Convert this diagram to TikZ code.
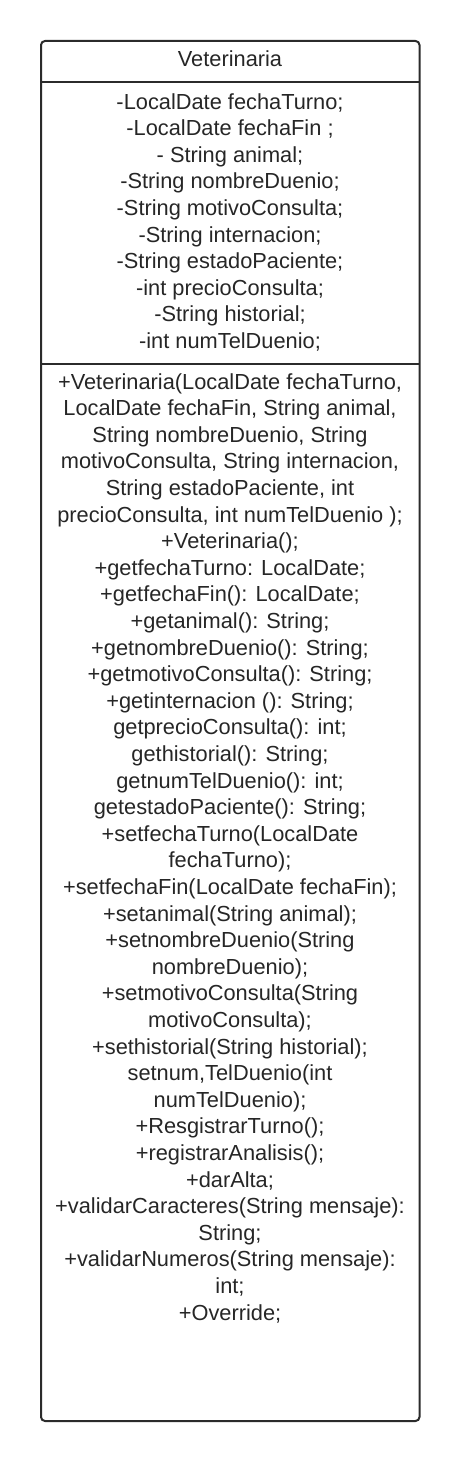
\documentclass[tikz,border=0pt]{standalone}
\usepackage{fontspec}
\setmainfont{Liberation Sans}
\definecolor{umlline}{HTML}{2B2B2B}
\definecolor{umltext}{HTML}{262626}
\begin{document}
\begin{tikzpicture}[x=1pt,y=-1pt,
  umltxt/.style={inner sep=0pt, anchor=base, align=center, text=umltext,
    font=\fontsize{21.8}{26.6}\selectfont},
  umlbox/.style={draw=umlline, line width=2pt, rounded corners=4pt},
  umlsep/.style={draw=umlline, line width=2pt}]
\useasboundingbox (0,0) rectangle (460,1461);
\draw[umlbox] (41,41) rectangle (419.5,1421);
\coordinate (h1l) at (41,82);
\coordinate (h1r) at (419.5,82);
\coordinate (h2l) at (41,364);
\coordinate (h2r) at (419.5,364);
\draw[umlsep] (h1l) -- (h1r);
\draw[umlsep] (h2l) -- (h2r);
\node[umltxt] (title) at (230,67) {Veterinaria};
% base anchor = baseline of the last line
\node[umltxt] (attrs) at (230,348.4) {-LocalDate fechaTurno;\\
-LocalDate fechaFin ;\\
- String animal;\\
-String nombreDuenio;\\
-String motivoConsulta;\\
-String internacion;\\
-String estadoPaciente;\\
-int precioConsulta;\\
-String historial;\\
-int numTelDuenio;};
\node[umltxt] (meths) at (230,1320) {+Veterinaria(LocalDate fechaTurno,\\
LocalDate fechaFin, String animal,\\
String nombreDuenio, String\\
motivoConsulta, String internacion,\\
String estadoPaciente, int\\
precioConsulta, int numTelDuenio );\\
+Veterinaria();\\
+getfechaTurno: LocalDate;\\
+getfechaFin(): LocalDate;\\
+getanimal(): String;\\
+getnombreDuenio(): String;\\
+getmotivoConsulta(): String;\\
+getinternacion (): String;\\
getprecioConsulta(): int;\\
gethistorial(): String;\\
getnumTelDuenio(): int;\\
getestadoPaciente(): String;\\
+setfechaTurno(LocalDate\\
fechaTurno);\\
+setfechaFin(LocalDate fechaFin);\\
+setanimal(String animal);\\
+setnombreDuenio(String\\
nombreDuenio);\\
+setmotivoConsulta(String\\
motivoConsulta);\\
+sethistorial(String historial);\\
setnum,TelDuenio(int\\
numTelDuenio);\\
+ResgistrarTurno();\\
+registrarAnalisis();\\
+darAlta;\\
+validarCaracteres(String mensaje):\\
String;\\
+validarNumeros(String mensaje):\\
int;\\
+Override;};
\end{tikzpicture}
\end{document}
